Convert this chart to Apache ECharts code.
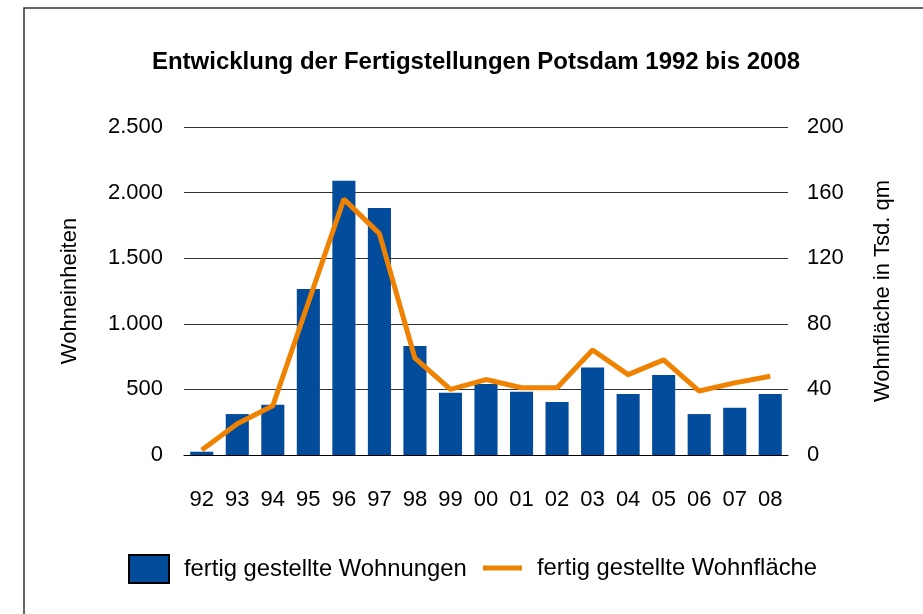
<!DOCTYPE html>
<html>
<head>
<meta charset="utf-8">
<script src="https://cdn.jsdelivr.net/npm/echarts@6/dist/echarts.min.js"></script>
<style>
  html, body { margin: 0; padding: 0; background: #fff; }
  #chart { width: 923px; height: 614px; }
</style>
</head>
<body>
<div id="chart"></div>
<script>
const years = ['92', '93', '94', '95', '96', '97', '98', '99', '00', '01', '02', '03', '04', '05', '06', '07', '08']
// fertig gestellte Wohnungen
const wohnungen = [25, 312, 383, 1265, 2091, 1883, 831, 475, 541, 483, 404, 666, 465, 610, 312, 361, 465]
// fertig gestellte Wohnfläche (Tsd. qm)
const wohnflaeche = [3, 19, 30, 93, 156, 135, 59, 40, 46, 41, 41, 64, 49, 58, 39, 44, 48]

const font = 'Liberation Sans, Arial, Helvetica, sans-serif'
const blue = '#034c9c'
const orange = '#ef8200'

const chart = echarts.init(document.getElementById('chart'), null, { renderer: 'canvas' })

chart.setOption({
  animation: false,
  backgroundColor: '#fff',
  textStyle: { fontFamily: font, color: '#000' },
  graphic: [
    {
      type: 'rect',
      shape: { x: 24, y: 8, width: 1000, height: 700 },
      style: { fill: 'none', stroke: '#333', lineWidth: 1.5 },
      silent: true,
    },
  ],
  title: {
    text: 'Entwicklung der Fertigstellungen Potsdam 1992 bis 2008',
    left: 471,
    textAlign: 'center',
    top: 45,
    textStyle: { fontFamily: font, fontSize: 24, fontWeight: 'bold', color: '#000' },
  },
  legend: [
    {
      data: [{ name: 'fertig gestellte Wohnungen', icon: 'rect' }],
      left: 128,
      top: 554,
      padding: 0,
      itemWidth: 40,
      itemHeight: 28,
      itemStyle: { borderColor: '#000', borderWidth: 2 },
      textStyle: { fontFamily: font, fontSize: 23.8, color: '#000', padding: [0, 0, 0, 10] },
    },
    {
      data: [{ name: 'fertig gestellte Wohnfläche', icon: 'rect' }],
      left: 483,
      top: 556,
      padding: 0,
      itemWidth: 39,
      itemHeight: 5,
      textStyle: { fontFamily: font, fontSize: 23.8, color: '#000', padding: [0, 0, 0, 10] },
    },
  ],
  grid: { left: 184, right: 135, top: 127, bottom: 159 },
  xAxis: {
    type: 'category',
    data: years,
    axisLine: { lineStyle: { color: '#000', width: 1 } },
    axisTick: { show: false },
    axisLabel: { margin: 34, fontFamily: font, fontSize: 22, color: '#000' },
  },
  yAxis: [
    {
      type: 'value',
      min: 0,
      max: 2500,
      interval: 500,
      name: 'Wohneinheiten',
      nameLocation: 'middle',
      nameGap: 103,
      nameTextStyle: { fontFamily: font, fontSize: 22, color: '#000' },
      axisLine: { show: false },
      axisTick: { show: false },
      axisLabel: {
        margin: 21,
        fontFamily: font,
        fontSize: 22,
        color: '#000',
        formatter: v => v >= 1000 ? Math.floor(v / 1000) + '.' + String(v % 1000).padStart(3, '0') : String(v),
      },
      splitLine: { lineStyle: { color: '#333', width: 1 } },
    },
    {
      type: 'value',
      min: 0,
      max: 200,
      interval: 40,
      name: 'Wohnfläche in Tsd. qm',
      nameLocation: 'middle',
      nameGap: 84,
      nameTextStyle: { fontFamily: font, fontSize: 22, color: '#000' },
      axisLine: { show: false },
      axisTick: { show: false },
      axisLabel: { margin: 19, fontFamily: font, fontSize: 22, color: '#000' },
      splitLine: { show: false },
    },
  ],
  series: [
    {
      name: 'fertig gestellte Wohnungen',
      type: 'bar',
      data: wohnungen,
      barWidth: '65%',
      itemStyle: { color: blue },
    },
    {
      name: 'fertig gestellte Wohnfläche',
      type: 'line',
      yAxisIndex: 1,
      data: wohnflaeche,
      showSymbol: false,
      symbol: 'none',
      lineStyle: { color: orange, width: 5 },
      itemStyle: { color: orange },
    },
  ],
})
</script>
</body>
</html>
